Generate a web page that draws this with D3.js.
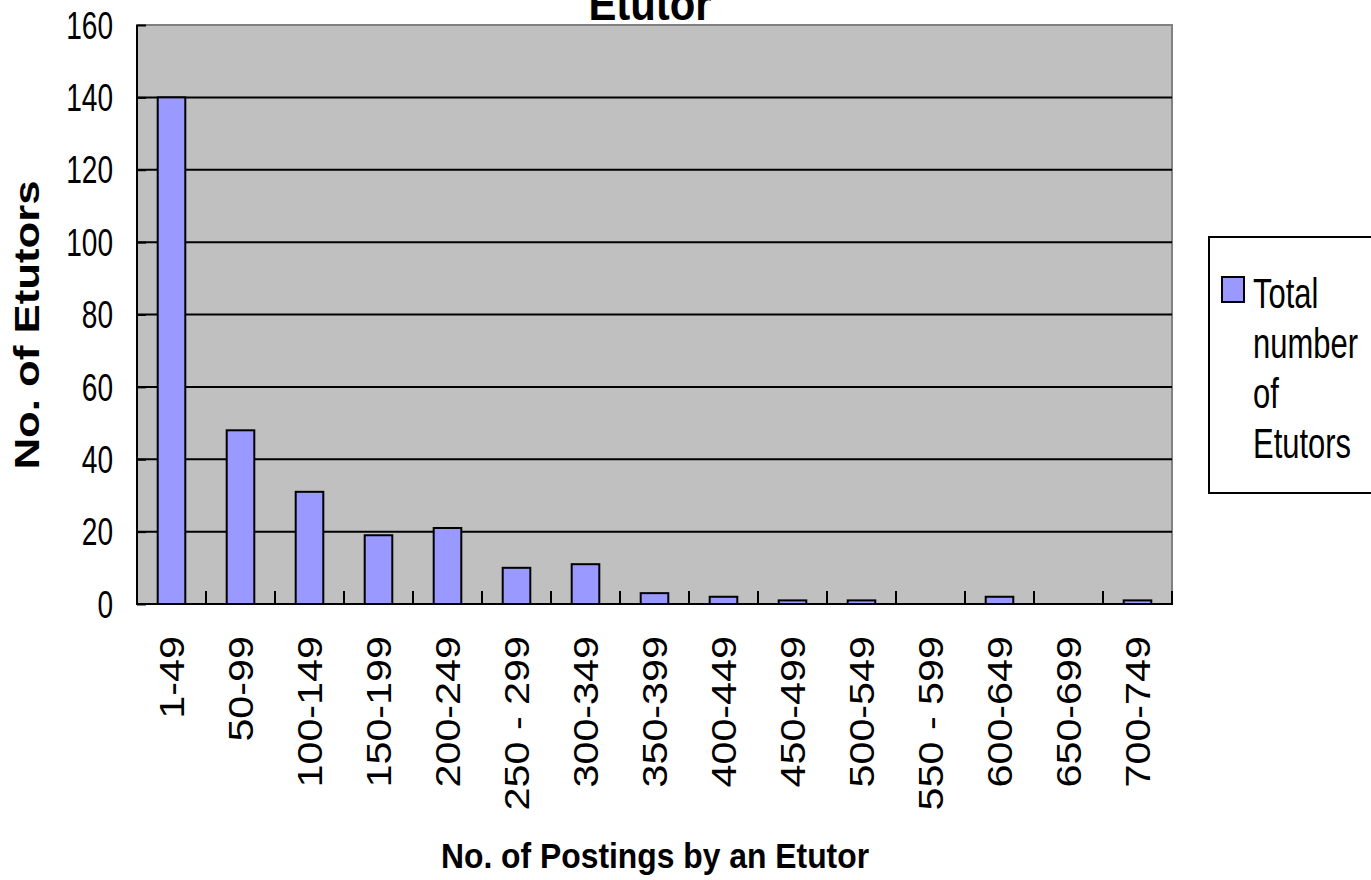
<!DOCTYPE html>
<html lang="en">
  <head>
    <meta charset="UTF-8" />
    <title>Etutor postings</title>
    <style>
      body {
        margin: 0;
        background-color: #fff;
      }
      svg {
        display: block;
        font-family: "Liberation Sans", Arial, sans-serif;
      }
      .bar {
        fill: #9999ff;
        stroke: #000;
        stroke-width: 2px;
      }
    </style>
  </head>

  <body>
    <div class="container"></div>

    <script src="https://d3js.org/d3.v7.min.js"></script>
    <script>
      const categories = ["1-49", "50-99", "100-149", "150-199", "200-249", "250 - 299", "300-349",
                          "350-399", "400-449", "450-499", "500-549", "550 - 599", "600-649", "650-699", "700-749"];
      const etutors = [140, 48, 31, 19, 21, 10, 11, 3, 2, 1, 1, 0, 2, 0, 1];
      const yTicks = [0, 20, 40, 60, 80, 100, 120, 140, 160];
      const legendLines = ["Total", "number", "of", "Etutors"];

      const w = 1371, h = 880;
      const padL = 137, padR = 1172, padT = 25, padB = 604;

      const svg = d3.select(".container")
                    .append("svg")
                    .attr("width", w)
                    .attr("height", h);

      const xScale = d3.scaleBand()
                       .domain(categories)
                       .range([padL, padR]);

      const yScale = d3.scaleLinear()
                       .domain([0, 160])
                       .range([padB, padT]);

      // plot background
      svg.append("rect")
         .attr("x", padL).attr("y", padT)
         .attr("width", padR - padL).attr("height", padB - padT)
         .attr("fill", "#c0c0c0")
         .attr("stroke", "#808080")
         .attr("stroke-width", 2);

      // gridlines
      svg.append("g")
         .selectAll("line")
         .data(yTicks.filter(d => d > 0 && d < 160))
         .enter().append("line")
         .attr("x1", padL).attr("x2", padR)
         .attr("y1", d => yScale(d)).attr("y2", d => yScale(d))
         .attr("stroke", "#000")
         .attr("stroke-width", 2);

      // y axis: ticks inside, labels outside
      const yAxis = d3.axisRight(yScale).tickValues(yTicks).tickSize(9).tickFormat("");
      const gy = svg.append("g")
         .attr("transform", "translate(" + padL + ",0)")
         .call(yAxis);
      gy.select(".domain").attr("stroke-width", 2).attr("d", "M0," + padT + "V" + padB);
      gy.selectAll(".tick line").attr("stroke-width", 2);

      svg.append("g")
         .selectAll("text")
         .data(yTicks)
         .enter().append("text")
         .attr("transform", d => "translate(113," + yScale(d) + ") scale(0.72,1)")
         .attr("text-anchor", "end")
         .attr("dy", "0.35em")
         .style("font-size", "39px")
         .text(d => d);

      // bars
      const barW = xScale.bandwidth() / 2.5;
      const barData = categories.map((c, i) => ({ c: c, v: etutors[i] })).filter(d => d.v > 0);
      svg.append("g")
         .selectAll("rect")
         .data(barData)
         .enter().append("rect")
         .attr("class", "bar")
         .attr("x", d => xScale(d.c) + (xScale.bandwidth() - barW) / 2)
         .attr("y", d => yScale(d.v))
         .attr("width", barW)
         .attr("height", d => padB - yScale(d.v));

      // x axis: ticks at band boundaries pointing up
      const bounds = categories.map(c => xScale(c)).concat([padR]);
      svg.append("g")
         .selectAll("line")
         .data(bounds)
         .enter().append("line")
         .attr("x1", d => d).attr("x2", d => d)
         .attr("y1", padB).attr("y2", padB - 13)
         .attr("stroke", "#000")
         .attr("stroke-width", 2);

      svg.append("line")
         .attr("x1", padL - 1).attr("x2", padR + 1)
         .attr("y1", padB).attr("y2", padB)
         .attr("stroke", "#000")
         .attr("stroke-width", 2);

      svg.append("g")
         .selectAll("text")
         .data(categories)
         .enter().append("text")
         .attr("transform", d => "translate(" + (xScale(d) + xScale.bandwidth() / 2) + ",636) rotate(-90) scale(1.18,1)")
         .attr("text-anchor", "end")
         .attr("dy", "0.35em")
         .style("font-size", "35px")
         .text(d => d);

      // titles (the chart title is cut by the top edge, as in the source)
      svg.append("text")
         .attr("transform", "translate(650,20) scale(0.91,1)")
         .attr("text-anchor", "middle")
         .style("font-size", "46px")
         .style("font-weight", "bold")
         .text("Etutor");

      svg.append("text")
         .attr("transform", "translate(655,868) scale(0.91,1)")
         .attr("text-anchor", "middle")
         .style("font-size", "35px")
         .style("font-weight", "bold")
         .text("No. of Postings by an Etutor");

      svg.append("text")
         .attr("transform", "translate(27,325) rotate(-90) scale(1.25,1)")
         .attr("text-anchor", "middle")
         .attr("dy", "0.35em")
         .style("font-size", "35px")
         .style("font-weight", "bold")
         .text("No. of Etutors");

      // legend
      const legend = svg.append("g");
      legend.append("rect")
         .attr("x", 1209).attr("y", 237)
         .attr("width", 200).attr("height", 256)
         .attr("fill", "#fff")
         .attr("stroke", "#000")
         .attr("stroke-width", 2);
      legend.append("rect")
         .attr("class", "bar")
         .attr("x", 1222).attr("y", 277)
         .attr("width", 22).attr("height", 25);
      legend.selectAll("text.leg")
         .data(legendLines)
         .enter().append("text")
         .attr("class", "leg")
         .attr("transform", (d, i) => "translate(1253," + (308 + i * 50) + ") scale(0.72,1)")
         .style("font-size", "43px")
         .text(d => d);
    </script>
  </body>
</html>
